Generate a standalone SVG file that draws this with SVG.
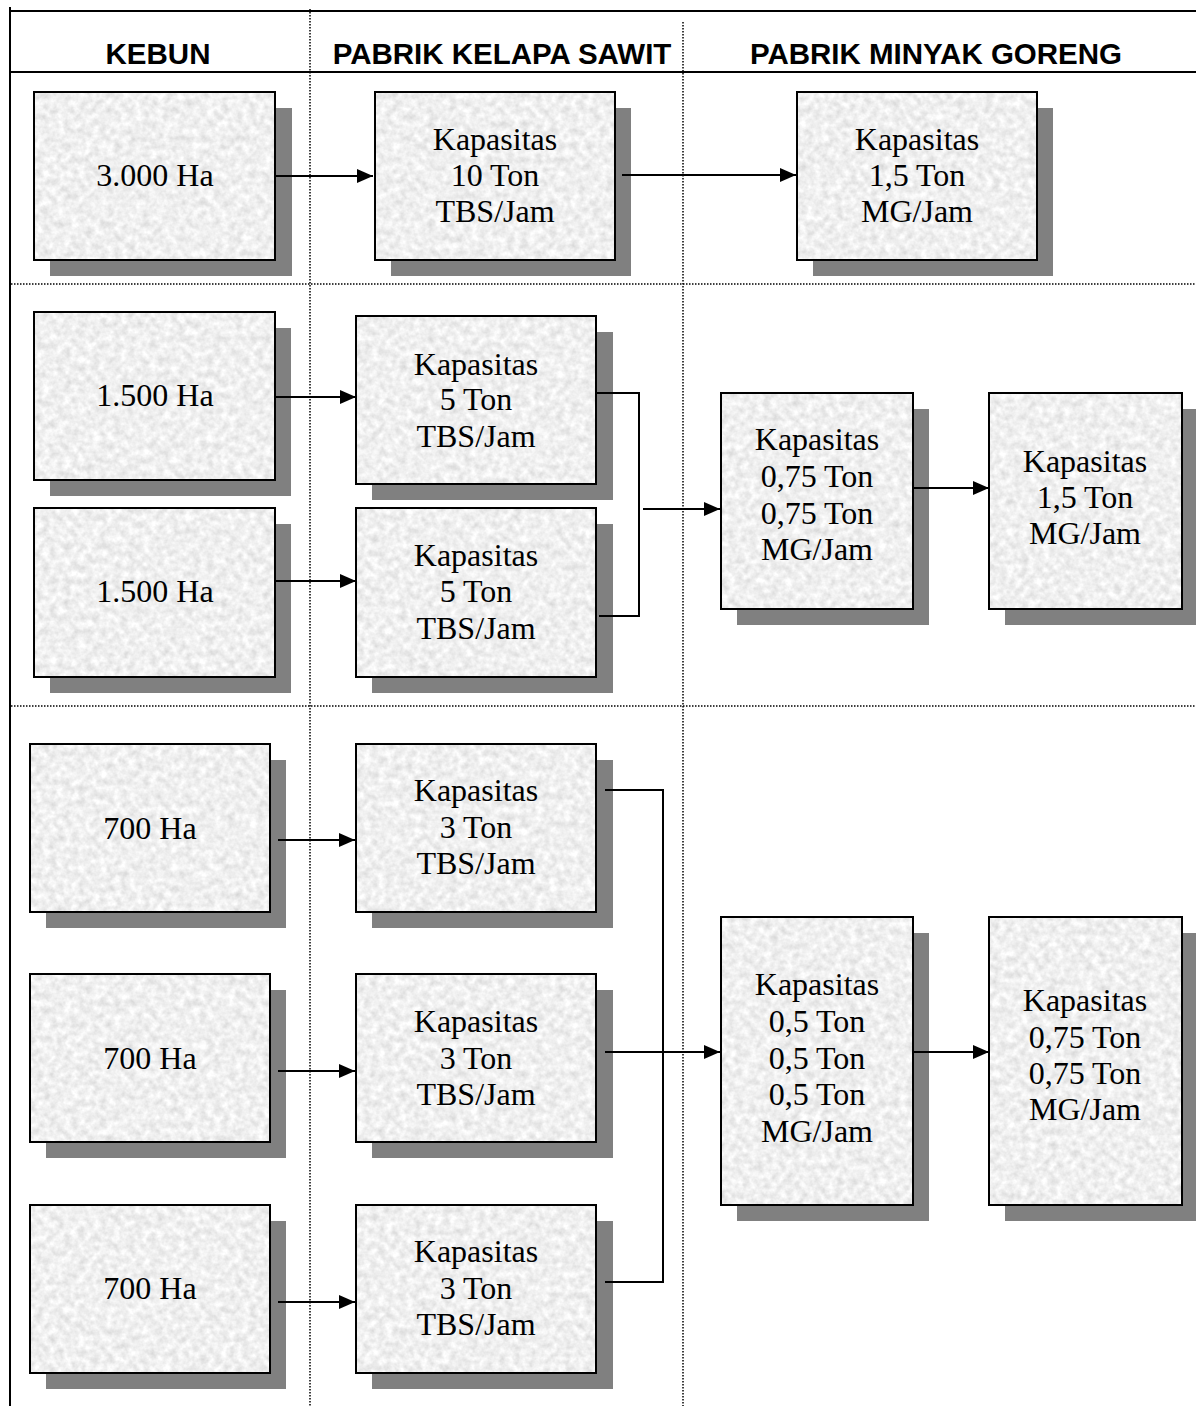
<svg xmlns="http://www.w3.org/2000/svg" width="1196" height="1406" viewBox="0 0 1196 1406">
<style>
.frame{stroke:#000;stroke-width:2;fill:none}
.dot{stroke:#000;stroke-width:1.5;stroke-dasharray:1.5 1.5;fill:none}
.hdr{font-family:"Liberation Sans",Arial,sans-serif;font-weight:bold;font-size:29.5px;text-anchor:middle;fill:#000}
.shadow{fill:#808080}
.tex{fill:#efefef;filter:url(#granite)}
.box{fill:none;stroke:#000;stroke-width:2}
.lbl{font-family:"Liberation Serif","Times New Roman",serif;font-size:32px;text-anchor:middle;fill:#000}
.con{stroke:#000;stroke-width:2;fill:none}
.arr{stroke:#000;stroke-width:2;fill:none;marker-end:url(#ah)}
</style>
<defs>
<filter id="granite" x="0" y="0" width="100%" height="100%" color-interpolation-filters="sRGB">
<feTurbulence type="fractalNoise" baseFrequency="0.14" numOctaves="3" seed="7" result="n"/>
<feColorMatrix in="n" type="matrix" values="0.22 0 0 0 0.83  0.22 0 0 0 0.83  0.22 0 0 0 0.83  0 0 0 0 1" result="g"/>
<feComposite in="g" in2="SourceGraphic" operator="in"/>
</filter>
<marker id="ah" markerUnits="userSpaceOnUse" markerWidth="16" markerHeight="14" refX="16" refY="7" orient="auto">
<path d="M0,0 L16,7 L0,14 z" fill="#000"/>
</marker>
</defs>
<rect width="1196" height="1406" fill="#fff"/>

<g id="grid">
<line class="frame" x1="10" y1="7" x2="10" y2="1406"/>
<line class="frame" x1="10" y1="11" x2="1196" y2="11"/>
<line class="frame" x1="10" y1="72" x2="1196" y2="72"/>
<line class="dot" x1="310" y1="9" x2="310" y2="1406"/>
<line class="dot" x1="683" y1="22" x2="683" y2="1406"/>
<line class="dot" x1="11" y1="284" x2="1196" y2="284"/>
<line class="dot" x1="11" y1="706" x2="1196" y2="706"/>
</g>

<g id="headers">
<text class="hdr" x="158" y="64">KEBUN</text>
<text class="hdr" x="502" y="64">PABRIK KELAPA SAWIT</text>
<text class="hdr" x="936" y="64">PABRIK MINYAK GORENG</text>
</g>

<g id="kebun-3000">
<rect class="shadow" x="50" y="108" width="242" height="168"/>
<rect class="tex" x="34" y="92" width="241" height="168"/>
<rect class="box" x="34" y="92" width="241" height="168"/>
<text class="lbl" x="155" y="186">3.000 Ha</text>
</g>
<g id="pks-10">
<rect class="shadow" x="391" y="108" width="240" height="168"/>
<rect class="tex" x="375" y="92" width="240" height="168"/>
<rect class="box" x="375" y="92" width="240" height="168"/>
<text class="lbl" x="495" y="150">Kapasitas</text>
<text class="lbl" x="495" y="186">10 Ton</text>
<text class="lbl" x="495" y="222">TBS/Jam</text>
</g>
<g id="pmg-1-5-a">
<rect class="shadow" x="813" y="108" width="240" height="168"/>
<rect class="tex" x="797" y="92" width="240" height="168"/>
<rect class="box" x="797" y="92" width="240" height="168"/>
<text class="lbl" x="917" y="150">Kapasitas</text>
<text class="lbl" x="917" y="186">1,5 Ton</text>
<text class="lbl" x="917" y="222">MG/Jam</text>
</g>

<g id="kebun-1500-a">
<rect class="shadow" x="50" y="328" width="241" height="168"/>
<rect class="tex" x="34" y="312" width="241" height="168"/>
<rect class="box" x="34" y="312" width="241" height="168"/>
<text class="lbl" x="155" y="406">1.500 Ha</text>
</g>
<g id="kebun-1500-b">
<rect class="shadow" x="50" y="524" width="241" height="169"/>
<rect class="tex" x="34" y="508" width="241" height="169"/>
<rect class="box" x="34" y="508" width="241" height="169"/>
<text class="lbl" x="155" y="602">1.500 Ha</text>
</g>
<g id="pks-5-a">
<rect class="shadow" x="372" y="332" width="241" height="168"/>
<rect class="tex" x="356" y="316" width="240" height="168"/>
<rect class="box" x="356" y="316" width="240" height="168"/>
<text class="lbl" x="476" y="375">Kapasitas</text>
<text class="lbl" x="476" y="410">5 Ton</text>
<text class="lbl" x="476" y="447">TBS/Jam</text>
</g>
<g id="pks-5-b">
<rect class="shadow" x="372" y="524" width="241" height="169"/>
<rect class="tex" x="356" y="508" width="240" height="169"/>
<rect class="box" x="356" y="508" width="240" height="169"/>
<text class="lbl" x="476" y="566">Kapasitas</text>
<text class="lbl" x="476" y="602">5 Ton</text>
<text class="lbl" x="476" y="639">TBS/Jam</text>
</g>
<g id="pmg-0-75">
<rect class="shadow" x="737" y="409" width="192" height="216"/>
<rect class="tex" x="721" y="393" width="192" height="216"/>
<rect class="box" x="721" y="393" width="192" height="216"/>
<text class="lbl" x="817" y="450">Kapasitas</text>
<text class="lbl" x="817" y="487">0,75 Ton</text>
<text class="lbl" x="817" y="524">0,75 Ton</text>
<text class="lbl" x="817" y="560">MG/Jam</text>
</g>
<g id="pmg-1-5-b">
<rect class="shadow" x="1005" y="409" width="193" height="216"/>
<rect class="tex" x="989" y="393" width="193" height="216"/>
<rect class="box" x="989" y="393" width="193" height="216"/>
<text class="lbl" x="1085" y="472">Kapasitas</text>
<text class="lbl" x="1085" y="508">1,5 Ton</text>
<text class="lbl" x="1085" y="544">MG/Jam</text>
</g>

<g id="kebun-700-a">
<rect class="shadow" x="46" y="760" width="240" height="168"/>
<rect class="tex" x="30" y="744" width="240" height="168"/>
<rect class="box" x="30" y="744" width="240" height="168"/>
<text class="lbl" x="150" y="839">700 Ha</text>
</g>
<g id="kebun-700-b">
<rect class="shadow" x="46" y="990" width="240" height="168"/>
<rect class="tex" x="30" y="974" width="240" height="168"/>
<rect class="box" x="30" y="974" width="240" height="168"/>
<text class="lbl" x="150" y="1069">700 Ha</text>
</g>
<g id="kebun-700-c">
<rect class="shadow" x="46" y="1221" width="240" height="168"/>
<rect class="tex" x="30" y="1205" width="240" height="168"/>
<rect class="box" x="30" y="1205" width="240" height="168"/>
<text class="lbl" x="150" y="1299">700 Ha</text>
</g>
<g id="pks-3-a">
<rect class="shadow" x="372" y="760" width="241" height="168"/>
<rect class="tex" x="356" y="744" width="240" height="168"/>
<rect class="box" x="356" y="744" width="240" height="168"/>
<text class="lbl" x="476" y="801">Kapasitas</text>
<text class="lbl" x="476" y="838">3 Ton</text>
<text class="lbl" x="476" y="874">TBS/Jam</text>
</g>
<g id="pks-3-b">
<rect class="shadow" x="372" y="990" width="241" height="168"/>
<rect class="tex" x="356" y="974" width="240" height="168"/>
<rect class="box" x="356" y="974" width="240" height="168"/>
<text class="lbl" x="476" y="1032">Kapasitas</text>
<text class="lbl" x="476" y="1069">3 Ton</text>
<text class="lbl" x="476" y="1105">TBS/Jam</text>
</g>
<g id="pks-3-c">
<rect class="shadow" x="372" y="1221" width="241" height="168"/>
<rect class="tex" x="356" y="1205" width="240" height="168"/>
<rect class="box" x="356" y="1205" width="240" height="168"/>
<text class="lbl" x="476" y="1262">Kapasitas</text>
<text class="lbl" x="476" y="1299">3 Ton</text>
<text class="lbl" x="476" y="1335">TBS/Jam</text>
</g>
<g id="pmg-0-5">
<rect class="shadow" x="737" y="933" width="192" height="288"/>
<rect class="tex" x="721" y="917" width="192" height="288"/>
<rect class="box" x="721" y="917" width="192" height="288"/>
<text class="lbl" x="817" y="995">Kapasitas</text>
<text class="lbl" x="817" y="1032">0,5 Ton</text>
<text class="lbl" x="817" y="1069">0,5 Ton</text>
<text class="lbl" x="817" y="1105">0,5 Ton</text>
<text class="lbl" x="817" y="1142">MG/Jam</text>
</g>
<g id="pmg-0-75-b">
<rect class="shadow" x="1005" y="933" width="193" height="288"/>
<rect class="tex" x="989" y="917" width="193" height="288"/>
<rect class="box" x="989" y="917" width="193" height="288"/>
<text class="lbl" x="1085" y="1011">Kapasitas</text>
<text class="lbl" x="1085" y="1048">0,75 Ton</text>
<text class="lbl" x="1085" y="1084">0,75 Ton</text>
<text class="lbl" x="1085" y="1120">MG/Jam</text>
</g>

<g id="connectors">
<line class="arr" x1="275" y1="176" x2="373" y2="176"/>
<line class="arr" x1="622" y1="175" x2="796" y2="175"/>
<line class="arr" x1="275" y1="397" x2="356" y2="397"/>
<line class="arr" x1="275" y1="581" x2="356" y2="581"/>
<polyline class="con" points="596,393 639,393 639,616 599,616"/>
<line class="arr" x1="643" y1="509" x2="720" y2="509"/>
<line class="arr" x1="913" y1="488" x2="989" y2="488"/>
<line class="arr" x1="278" y1="840" x2="355" y2="840"/>
<line class="arr" x1="278" y1="1071" x2="355" y2="1071"/>
<line class="arr" x1="278" y1="1302" x2="355" y2="1302"/>
<polyline class="con" points="605,790 663,790 663,1282 605,1282"/>
<line class="arr" x1="605" y1="1052" x2="720" y2="1052"/>
<line class="arr" x1="913" y1="1052" x2="989" y2="1052"/>
</g>
</svg>
